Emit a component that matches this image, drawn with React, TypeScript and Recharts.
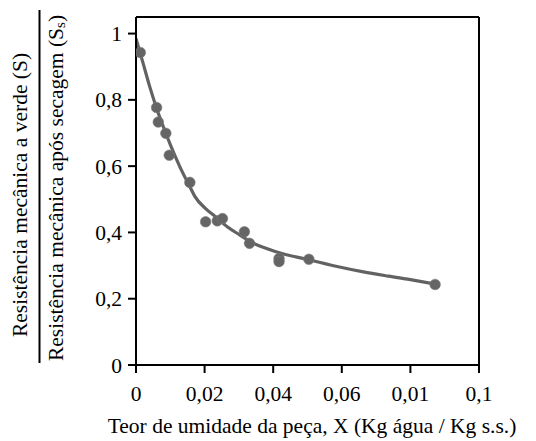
import React from "react";
import { ComposedChart, Line, Scatter, XAxis, YAxis, ReferenceLine } from "recharts";

const pointsX = [0.00125, 0.006, 0.0065, 0.0087, 0.0097, 0.0157, 0.0203, 0.0237, 0.0252, 0.0316, 0.0331, 0.0417, 0.0417, 0.0504, 0.0872];
const pointsY = [0.943, 0.777, 0.733, 0.699, 0.633, 0.551, 0.432, 0.435, 0.442, 0.402, 0.367, 0.321, 0.312, 0.319, 0.243];

const curveX = [0, 0.002, 0.004, 0.006, 0.008, 0.01, 0.0128, 0.016, 0.0172, 0.0203, 0.023, 0.0266, 0.0303, 0.0332, 0.0408, 0.0505, 0.0583, 0.0663, 0.0736, 0.0808, 0.0872];
const curveY = [0.985, 0.913, 0.84, 0.775, 0.718, 0.665, 0.598, 0.532, 0.508, 0.472, 0.449, 0.417, 0.392, 0.373, 0.342, 0.317, 0.298, 0.281, 0.268, 0.256, 0.244];

const xTicks = [0, 0.02, 0.04, 0.06, 0.08, 0.1];
const xTickLabels = ["0", "0,02", "0,04", "0,06", "0,01", "0,1"];
const yTicks = [0, 0.2, 0.4, 0.6, 0.8, 1];
const yTickLabels = ["0", "0,2", "0,4", "0,6", "0,8", "1"];

const xTitle = "Teor de umidade da peça, X (Kg água / Kg s.s.)";
const yTitleTop = "Resistência mecânica a verde (S)";
const yTitleBottom = "Resistência mecânica após secagem (S";

const points = pointsX.map((x, i) => ({ x, y: pointsY[i] }));
const curve = curveX.map((x, i) => ({ x, y: curveY[i] }));

const FONT = "Liberation Serif";
const FS = 21.5;
const fontStyle = { fontFamily: FONT };

const YLabel = (props: any) => {
  const cy = 191;
  return (
    <g>
      <text
        x={20}
        y={cy + 4}
        transform={`rotate(-90 20 ${cy + 4})`}
        textAnchor="middle"
        dominantBaseline="central"
        style={fontStyle}
        fontSize={FS}
        fill="#000"
      >
        {yTitleTop}
      </text>
      <line x1={39.5} x2={39.5} y1={10} y2={363} stroke="#000" strokeWidth={2} />
      <text
        x={56}
        y={cy - 3}
        transform={`rotate(-90 56 ${cy - 3})`}
        textAnchor="middle"
        dominantBaseline="central"
        style={fontStyle}
        fontSize={FS}
        fill="#000"
      >
        {yTitleBottom}
        <tspan fontSize={15} dy={4}>s</tspan>
        <tspan dy={-4}>)</tspan>
      </text>
    </g>
  );
};

const XLabel = (props: any) => {
  return (
    <text x={312} y={433} textAnchor="middle" style={fontStyle} fontSize={FS} fill="#000">
      {xTitle}
    </text>
  );
};

const Dot = (props: any) => {
  const { cx, cy } = props;
  return <circle cx={cx} cy={cy} r={5.3} fill="#656565" stroke="#7a7a7a" strokeWidth={0.6} />;
};

const tickStyle = { fontSize: FS, fill: "#000", style: fontStyle };

export default function App() {
  return (
    <div style={{ position: "absolute", left: 0, top: 0, width: 536, height: 441, background: "#fff" }}>
      <ComposedChart width={536} height={441} margin={{ top: 17, right: 57, left: 0, bottom: 0 }}>
        <XAxis
          type="number"
          dataKey="x"
          domain={[0, 0.1]}
          ticks={xTicks}
          tickFormatter={(v: number) => xTickLabels[xTicks.indexOf(v)] ?? String(v)}
          tick={tickStyle}
          tickSize={8}
          tickMargin={13}
          axisLine={{ stroke: "#000", strokeWidth: 2 }}
          tickLine={{ stroke: "#000", strokeWidth: 2 }}
          height={76}
          allowDataOverflow
          label={<XLabel />}
        />
        <YAxis
          type="number"
          dataKey="y"
          domain={[0, 1.05]}
          ticks={yTicks}
          tickFormatter={(v: number) => yTickLabels[yTicks.indexOf(v)] ?? String(v)}
          tick={tickStyle}
          tickSize={8}
          tickMargin={6}
          axisLine={{ stroke: "#000", strokeWidth: 2 }}
          tickLine={{ stroke: "#000", strokeWidth: 2 }}
          width={136}
          allowDataOverflow
          label={<YLabel />}
        />
        <ReferenceLine y={1.05} stroke="#000" strokeWidth={2} />
        <ReferenceLine x={0.1} stroke="#000" strokeWidth={2} />
        <Line
          data={curve}
          dataKey="y"
          type="monotone"
          stroke="#626262"
          strokeWidth={3.2}
          dot={false}
          isAnimationActive={false}
        />
        <Scatter data={points} dataKey="y" shape={<Dot />} isAnimationActive={false} />
      </ComposedChart>
    </div>
  );
}
